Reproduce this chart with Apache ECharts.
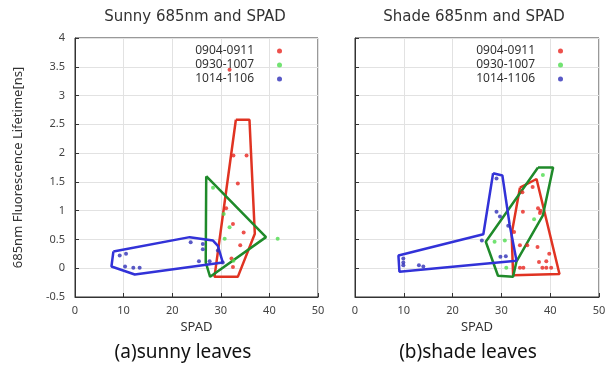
<!DOCTYPE html>
<html>
<head>
<meta charset="utf-8">
<script src="https://cdn.jsdelivr.net/npm/echarts@6/dist/echarts.min.js"></script>
<style>
  html, body { margin: 0; padding: 0; background: #fff; }
  #chart { width: 614px; height: 367px; }
</style>
</head>
<body>
<div id="chart"></div>
<script>
// 期間ごとの点 [SPAD, lifetime]
const periods = ['0904-0911', '0930-1007', '1014-1106'];
const pointColors = ['#e8261f', '#4fdc4f', '#3030b8'];
const hullColors = ['#e03322', '#1f8a2a', '#3232d8'];

// (a) sunny leaves
const sunnyRed = [[31.8, 3.45], [32.6, 1.96], [35.3, 1.96], [33.5, 1.47], [31.1, 1.04], [32.5, 0.77],
  [34.7, 0.62], [34.0, 0.40], [32.2, 0.17], [32.5, 0.02]];
const sunnyGreen = [[28.4, 1.40], [30.6, 0.94], [31.8, 0.71], [30.8, 0.51], [41.7, 0.51], [32.6, 0.13]];
const sunnyBlue = [[9.2, 0.22], [10.5, 0.25], [10.3, 0.03], [12.0, 0.01], [13.3, 0.01], [23.8, 0.45],
  [26.3, 0.42], [26.3, 0.33], [25.5, 0.12], [27.7, 0.12], [29.4, 0.31], [30.4, 0.10]];
const sunnyRedHull = [[33.1, 2.58], [35.9, 2.58], [37.0, 0.60], [33.5, -0.15], [28.7, -0.15], [33.1, 2.58]];
const sunnyGreenHull = [[27.0, 1.60], [39.3, 0.54], [27.8, -0.15], [26.9, 0.10], [27.0, 1.60]];
const sunnyBlueHull = [[7.9, 0.29], [23.6, 0.54], [28.4, 0.48], [29.4, 0.39], [30.4, 0.10], [12.3, -0.11],
  [7.5, 0.03], [7.9, 0.29]];

// (b) shade leaves
const shadeRed = [[36.4, 1.41], [34.3, 1.32], [34.4, 0.98], [37.5, 1.04], [38.0, 1.00], [37.9, 0.96],
  [32.6, 0.63], [33.8, 0.40], [35.3, 0.40], [37.4, 0.37], [39.8, 0.25], [39.2, 0.12], [37.7, 0.11],
  [33.8, 0.01], [34.5, 0.01], [38.4, 0.01], [39.2, 0.01], [40.2, 0.01]];
const shadeGreen = [[38.5, 1.62], [36.7, 0.85], [28.6, 0.46], [30.7, 0.48], [31.0, 0.01]];
const shadeBlue = [[29.0, 1.56], [29.0, 0.98], [29.7, 0.90], [31.4, 0.74], [26.0, 0.48], [29.8, 0.20],
  [30.9, 0.21], [9.9, 0.17], [9.9, 0.10], [9.9, 0.05], [13.1, 0.05], [14.0, 0.03]];
const shadeRedHull = [[33.8, 1.40], [37.2, 1.55], [41.9, -0.10], [32.4, -0.12], [32.1, 0.60], [33.8, 1.40]];
const shadeGreenHull = [[37.5, 1.75], [40.6, 1.75], [38.5, 0.92], [33.1, 0.12], [32.4, -0.15], [29.3, -0.13],
  [26.8, 0.46], [37.5, 1.75]];
const shadeBlueHull = [[28.3, 1.65], [30.2, 1.61], [31.7, 0.75], [33.1, 0.13], [9.1, -0.06], [8.9, 0.22],
  [26.3, 0.59], [28.3, 1.65]];

const xTicks = { min: 0, max: 50, interval: 10 };
const yTicks = { min: -0.5, max: 4, interval: 0.5 };

const font = 'Noto Sans, DejaVu Sans, sans-serif';

const chart = echarts.init(document.getElementById('chart'));

function xAxis(gridIndex) {
  return {
    type: 'value', gridIndex, min: xTicks.min, max: xTicks.max, interval: xTicks.interval,
    name: 'SPAD', nameLocation: 'middle', nameGap: 24,
    nameTextStyle: { fontSize: 13, color: '#333', fontFamily: font },
    axisLine: { show: true, onZero: false, lineStyle: { color: '#333', width: 1 } },
    axisTick: { show: true, inside: true, length: 4, lineStyle: { color: '#333' } },
    axisLabel: { fontSize: 11, color: '#444', fontFamily: font, margin: 8 },
    splitLine: { show: true, lineStyle: { color: '#e2e2e2', width: 1 } }
  };
}
function yAxis(gridIndex, labels) {
  return {
    type: 'value', gridIndex, min: yTicks.min, max: yTicks.max, interval: yTicks.interval,
    name: labels ? '685nm Fluorescence Lifetime[ns]' : '', nameLocation: 'middle', nameGap: 50,
    nameTextStyle: { fontSize: 13, color: '#333', fontFamily: font },
    axisLine: { show: true, onZero: false, lineStyle: { color: '#333', width: 1 } },
    axisTick: { show: true, inside: true, length: 4, lineStyle: { color: '#333' } },
    axisLabel: { show: labels, fontSize: 11, color: '#444', fontFamily: font, margin: 10 },
    splitLine: { show: true, lineStyle: { color: '#e2e2e2', width: 1 } }
  };
}
function pts(name, data, color, idx) {
  return {
    name, type: 'scatter', data, xAxisIndex: idx, yAxisIndex: idx,
    symbolSize: 4, itemStyle: { color }, z: 3
  };
}
function hull(name, data, color, idx) {
  return {
    name, type: 'line', data, xAxisIndex: idx, yAxisIndex: idx,
    symbol: 'none', lineStyle: { color, width: 2.5 }, z: 2, silent: true
  };
}
function legend(right) {
  return {
    data: periods, orient: 'vertical', right, top: 40, align: 'right',
    icon: 'circle', itemWidth: 5, itemHeight: 5, itemGap: 2,
    textStyle: { fontSize: 12, color: '#333', fontFamily: font, padding: [0, 18, 0, 0] }
  };
}

const option = {
  animation: false,
  backgroundColor: '#fff',
  title: [
    { text: 'Sunny 685nm and SPAD', left: 190, top: 5, textAlign: 'center',
      textStyle: { fontSize: 15, fontWeight: 'normal', color: '#333', fontFamily: 'DejaVu Sans, sans-serif' } },
    { text: 'Shade 685nm and SPAD', left: 469, top: 5, textAlign: 'center',
      textStyle: { fontSize: 15, fontWeight: 'normal', color: '#333', fontFamily: 'DejaVu Sans, sans-serif' } },
    { text: '(a)sunny leaves', left: 178, top: 338, textAlign: 'center',
      textStyle: { fontSize: 19, fontWeight: 'normal', color: '#111', fontFamily: font } },
    { text: '(b)shade leaves', left: 463, top: 338, textAlign: 'center',
      textStyle: { fontSize: 19, fontWeight: 'normal', color: '#111', fontFamily: font } }
  ],
  legend: [legend(327), legend(46)],
  grid: [
    { left: 75, right: 296, top: 38, bottom: 70, show: true, borderColor: '#333', borderWidth: 1 },
    { left: 355, right: 15, top: 38, bottom: 70, show: true, borderColor: '#333', borderWidth: 1 }
  ],
  xAxis: [xAxis(0), xAxis(1)],
  yAxis: [yAxis(0, true), yAxis(1, false)],
  series: [
    hull('sunny-r', sunnyRedHull, hullColors[0], 0),
    hull('sunny-g', sunnyGreenHull, hullColors[1], 0),
    hull('sunny-b', sunnyBlueHull, hullColors[2], 0),
    pts(periods[0], sunnyRed, pointColors[0], 0),
    pts(periods[1], sunnyGreen, pointColors[1], 0),
    pts(periods[2], sunnyBlue, pointColors[2], 0),
    hull('shade-r', shadeRedHull, hullColors[0], 1),
    hull('shade-g', shadeGreenHull, hullColors[1], 1),
    hull('shade-b', shadeBlueHull, hullColors[2], 1),
    pts(periods[0], shadeRed, pointColors[0], 1),
    pts(periods[1], shadeGreen, pointColors[1], 1),
    pts(periods[2], shadeBlue, pointColors[2], 1)
  ]
};

chart.setOption(option);
</script>
</body>
</html>
